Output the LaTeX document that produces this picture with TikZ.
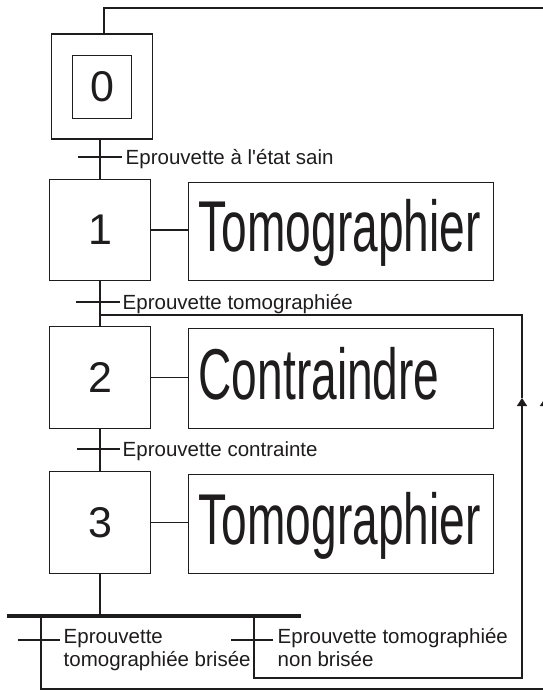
\documentclass[tikz,border=0pt]{standalone}
\usepackage{fontspec}
\setmainfont{Liberation Sans}
\usetikzlibrary{arrows.meta}
\definecolor{ink}{HTML}{1E1C1D}
\begin{document}
\begin{tikzpicture}[x=1pt,y=-1pt,line width=1.45pt,draw=ink,text=ink,
  stepbox/.style={draw,minimum width=101pt,minimum height=101pt,inner sep=0pt,font=\fontsize{43}{43}\selectfont},
  actbox/.style={draw,minimum width=305pt,inner sep=0pt},
  acttext/.style={anchor=base west,inner sep=0pt,font=\fontsize{72}{72}\selectfont},
  lbl/.style={anchor=base west,inner sep=0pt,font=\fontsize{20.5}{23}\selectfont},
  upar/.style={-{Triangle[length=8pt,width=10pt]}}]
\useasboundingbox (0,0) rectangle (542,691);

% steps
\node[stepbox,minimum width=101pt,minimum height=105pt] (s0) at (102,86.5) {};
\node[draw,minimum width=59pt,minimum height=63pt,inner sep=0pt,font=\fontsize{43}{43}\selectfont] (s0i) at (102,87) {0};
\node[stepbox,minimum height=101pt] (s1) at (100,230) {1};
\node[stepbox,minimum height=102pt] (s2) at (100,377.5) {2};
\node[stepbox,minimum height=102pt] (s3) at (100,522.5) {3};

% actions
\node[actbox,minimum height=98pt] (a1) at (341,231.5) {};
\node[actbox,minimum height=100pt] (a2) at (341,378.5) {};
\node[actbox,minimum height=99pt] (a3) at (341,524) {};
\node[acttext] (a1t) at (198,251) {\scalebox{0.64}[1]{Tomographier}};
\node[acttext] (a2t) at (198,399) {\scalebox{0.64}[1]{Contraindre}};
\node[acttext] (a3t) at (198,544) {\scalebox{0.64}[1]{Tomographier}};

\draw (s1.east) -- (s1.east -| a1.west);
\draw (s2.east) -- (s2.east -| a2.west);
\draw (s3.east) -- (s3.east -| a3.west);

% transitions
\coordinate (t0) at (100,157);
\coordinate (t1) at (100,302);
\coordinate (t2) at (100,449);
\draw (s1.north |- s0.south) -- (s1.north);
\draw (s1.south) -- (s2.north);
\draw (s2.south) -- (s3.north);
\draw ([xshift=-22pt]t0) -- ([xshift=22pt]t0);
\draw ([xshift=-24pt]t1) -- ([xshift=20pt]t1);
\draw ([xshift=-23pt]t2) -- ([xshift=20pt]t2);
\node[lbl] (l0) at (125,164.5) {Eprouvette à l\textquotesingle état sain};
\node[lbl] (l1) at (122,309) {Eprouvette tomographiée};
\node[lbl] (l2) at (122,456) {Eprouvette contrainte};

% divergence bar
\coordinate (barL) at (7,616);
\coordinate (barR) at (301,616);
\draw (s3.south) -- (s3.south |- barL);
\draw[line width=4.5pt] (barL) -- (barR);
\coordinate (brL) at (41,616);
\coordinate (brR) at (254,616);
\coordinate (tL) at (39,640);
\coordinate (tR) at (252,640);
\draw ([xshift=-21pt]tL) -- ([xshift=21pt]tL);
\draw ([xshift=-21pt]tR) -- ([xshift=21pt]tR);
\node[lbl] (lL1) at (63,643) {Eprouvette};
\node[lbl] (lL2) at (63,666) {tomographiée brisée};
\node[lbl] (lR1) at (277,643) {Eprouvette tomographiée};
\node[lbl] (lR2) at (277,666) {non brisée};

% inner loop back to step 2
\coordinate (inB) at (522,678);
\coordinate (inA) at (522,398);
\coordinate (j1) at (100,315);
\draw[upar] (brR) |- (inB) -- (inA);
\draw (inA) |- (j1);

% outer loop back to step 0
\coordinate (outB) at (545,689);
\coordinate (outA) at (545,398);
\coordinate (topR) at (545,8);
\draw[upar] (brL) |- (outB) -- (outA);
\draw (outA) -- (topR) -- ([xshift=2pt]s0.north |- topR) -- ([xshift=2pt]s0.north);
\end{tikzpicture}
\end{document}
